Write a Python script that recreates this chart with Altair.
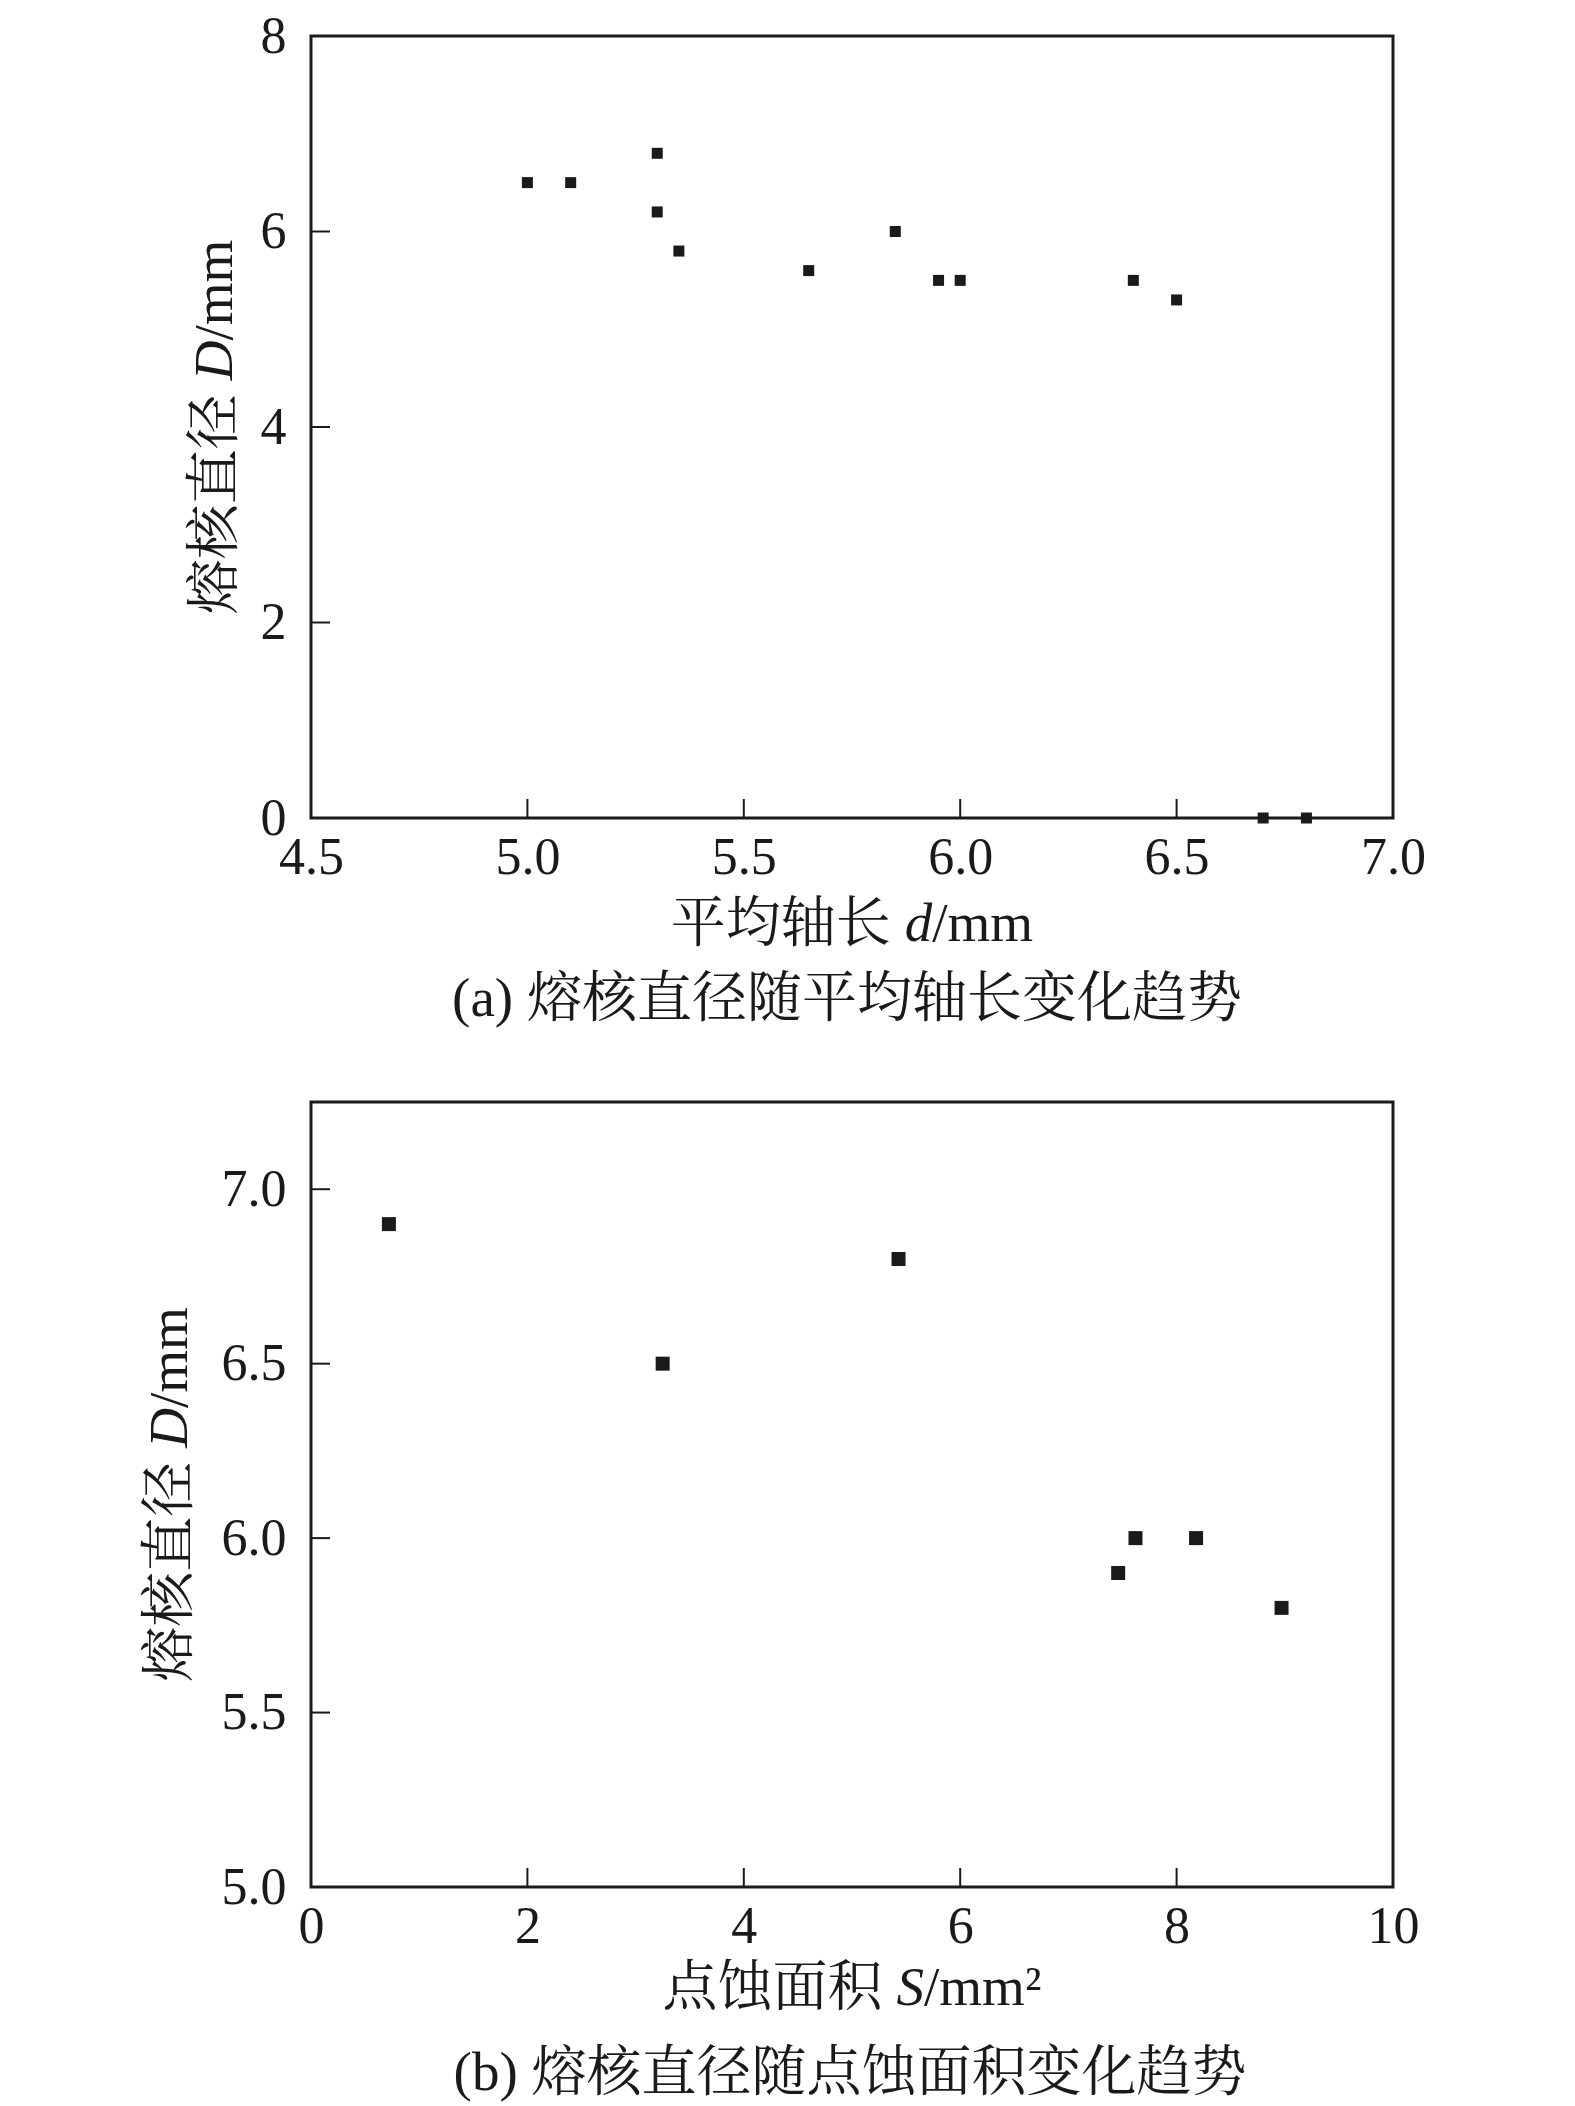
import altair as alt
import pandas as pd

# ---- panel (a): nugget diameter vs. mean axis length ----
a_axis_len = [5.0, 5.1, 5.3, 5.3, 5.35, 5.65, 5.85, 5.95, 6.0, 6.4, 6.5, 6.7, 6.8]
a_nugget = [6.5, 6.5, 6.8, 6.2, 5.8, 5.6, 6.0, 5.5, 5.5, 5.5, 5.3, 0.0, 0.0]
a_x_ticks = [4.5, 5.0, 5.5, 6.0, 6.5, 7.0]
a_y_ticks = [0, 2, 4, 6, 8]
a_x_domain = [4.5, 7.0]
a_y_domain = [0, 8]

# ---- panel (b): nugget diameter vs. pitting area ----
b_area = [0.72, 3.25, 5.43, 7.46, 7.62, 8.18, 8.97]
b_nugget = [6.90, 6.50, 6.80, 5.90, 6.00, 6.00, 5.80]
b_x_ticks = [0, 2, 4, 6, 8, 10]
b_y_ticks = [5.0, 5.5, 6.0, 6.5, 7.0]
b_x_domain = [0, 10]
b_y_domain = [5.0, 7.25]

# ---- texts: (plain part, italic symbol, unit) ----
y_title = ("熔核直径", "D", "/mm")
a_x_title = ("平均轴长", "d", "/mm")
b_x_title = ("点蚀面积", "S", "/mm²")
a_caption = "(a) 熔核直径随平均轴长变化趋势"
b_caption = "(b) 熔核直径随点蚀面积变化趋势"

FONT = "Liberation Serif, Noto Serif CJK SC, Noto Sans CJK SC"
INK = "#1a1a1a"
W = 1082
FS = 55          # title font size
GAP = 14         # word space between CJK and symbol
SYM_W = {"D": 0.722 * FS, "d": 0.5 * FS, "S": 0.5 * FS}


def txt(s, x, y, align, angle=0, italic=False):
    return alt.Chart(pd.DataFrame({"t": [s]})).mark_text(
        align=align, baseline="middle", angle=angle, font=FONT, fontSize=FS,
        fontStyle="italic" if italic else "normal", color=INK,
    ).encode(text="t:N", x=alt.value(x), y=alt.value(y))


def x_title_layers(parts, y, total):
    cjk, sym, unit = parts
    start = W / 2 - total / 2
    q = start + 4 * FS
    return [txt(cjk, q, y, "right"),
            txt(sym, q + GAP, y, "left", italic=True),
            txt(unit, q + GAP + SYM_W[sym], y, "left")]


def y_title_layers(parts, x, h, total):
    cjk, sym, unit = parts
    start = h / 2 + total / 2          # bottom end of the vertical text
    p = start - 4 * FS
    return [txt(cjk, x, p, "right", angle=270),
            txt(sym, x, p - GAP, "left", angle=270, italic=True),
            txt(unit, x, p - GAP - SYM_W[sym], "left", angle=270)]


def panel(xs, ys, xt, yt, xdom, ydom, xfmt, yfmt, xparts, xtotal, xtitle_dy,
          ytitle_x, caption, cap_dx, cap_dy, h, msize):
    df = pd.DataFrame({"x": xs, "y": ys})
    xscale = alt.Scale(domain=xdom, nice=False, zero=False)
    yscale = alt.Scale(domain=ydom, nice=False, zero=False)
    xaxis = alt.Axis(values=xt, format=xfmt, title=None, grid=False, domain=False,
                     ticks=False, tickSize=0, labelPadding=14, labelFontSize=52,
                     labelFont=FONT, labelColor=INK, labelFlush=False, labelOverlap=False)
    yaxis = alt.Axis(values=yt, format=yfmt, title=None, grid=False, domain=False,
                     ticks=False, tickSize=0, labelPadding=25, labelFontSize=52,
                     labelFont=FONT, labelColor=INK, labelFlush=False, labelOverlap=False)
    pts = alt.Chart(df).mark_square(size=msize, filled=True, color=INK, opacity=1).encode(
        x=alt.X("x:Q", scale=xscale, axis=xaxis),
        y=alt.Y("y:Q", scale=yscale, axis=yaxis),
    )
    ytk = alt.Chart(pd.DataFrame({"y": yt})).mark_rule(color=INK, strokeWidth=2).encode(
        y=alt.Y("y:Q", scale=yscale, axis=yaxis),
        x=alt.value(0), x2=alt.value(19),
    )
    xtk = alt.Chart(pd.DataFrame({"x": xt})).mark_rule(color=INK, strokeWidth=2).encode(
        x=alt.X("x:Q", scale=xscale, axis=xaxis),
        y=alt.value(h), y2=alt.value(h - 19),
    )
    ytot = 4 * FS + GAP + SYM_W["D"] + 100.9
    layers = [pts, ytk, xtk]
    layers += x_title_layers(xparts, h + xtitle_dy, xtotal)
    layers += y_title_layers(y_title, ytitle_x, h, ytot)
    layers.append(txt(caption, W / 2 + cap_dx, h + cap_dy, "center"))
    return alt.layer(*layers).properties(width=W, height=h)


top = panel(a_axis_len, a_nugget, a_x_ticks, a_y_ticks, a_x_domain, a_y_domain,
            ".1f", "d", a_x_title, 4 * FS + GAP + 0.5 * FS + 100.9, 106,
            -96, a_caption, -5, 181, 782, 121)
bottom = panel(b_area, b_nugget, b_x_ticks, b_y_ticks, b_x_domain, b_y_domain,
               "d", ".1f", b_x_title, 4 * FS + GAP + 0.5 * FS + 117.4, 101,
               -141, b_caption, -2, 186, 785, 196)

chart = alt.vconcat(top, bottom, spacing=71).properties(
    padding={"top": 0, "left": 133, "right": 10, "bottom": 5},
).configure_view(stroke=INK, strokeWidth=3)

chart.save("out.html", embed_options={"renderer": "svg", "actions": False})
